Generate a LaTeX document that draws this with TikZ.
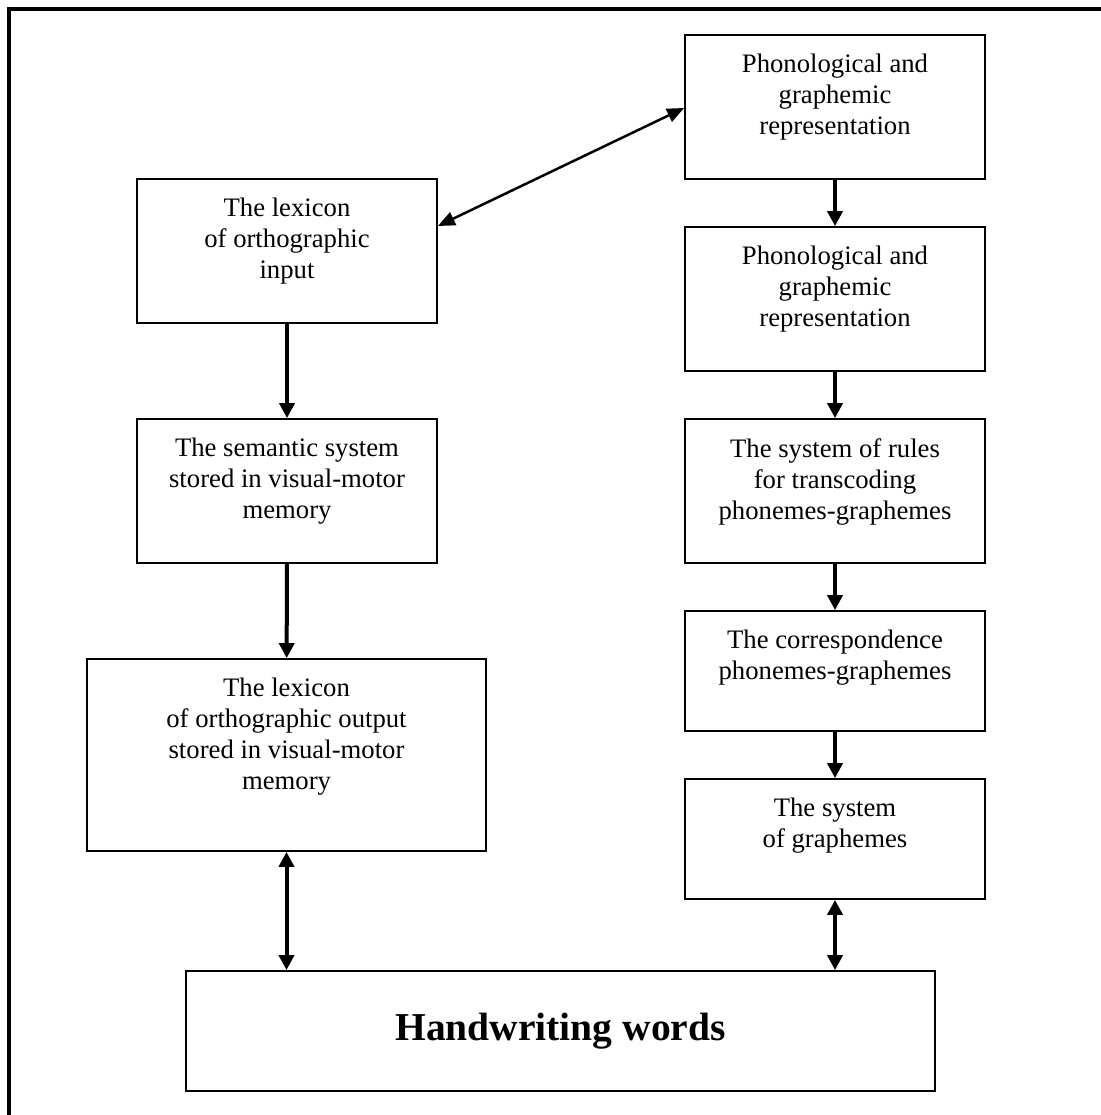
\documentclass[tikz,border=0pt]{standalone}
\usepackage{fontspec}
\setmainfont{Liberation Serif}
\usetikzlibrary{arrows.meta}
\begin{document}
\begin{tikzpicture}[x=1pt,y=-1pt,
  box/.style={draw, line width=1.8pt, inner sep=0pt, rectangle},
  lbl/.style={anchor=north, inner sep=0pt, align=center, font=\fontsize{26.7}{31}\selectfont},
  flow/.style={line width=4pt, -{Triangle[length=15pt,width=15pt]}},
  biflow/.style={line width=4pt, {Triangle[length=15pt,width=15pt]}-{Triangle[length=15pt,width=15pt]}},
  diag/.style={line width=2.5pt, {Triangle[length=17pt,width=14pt]}-{Triangle[length=17pt,width=14pt]}},
  frame/.style={line width=3.5pt}]
\useasboundingbox (0,0) rectangle (1100,1115);
% outer frame (top and left sides visible)
\coordinate (fbl) at (9,1116);
\coordinate (ftl) at (9,9);
\coordinate (ftr) at (1101,9);
\draw[frame] (fbl) -- (ftl) -- (ftr);
% right column
\node[box, minimum width=300pt, minimum height=144pt] (p1) at (835,107) {};
\node[box, minimum width=300pt, minimum height=144pt] (p2) at (835,299) {};
\node[box, minimum width=300pt, minimum height=144pt] (p3) at (835,491) {};
\node[box, minimum width=300pt, minimum height=120pt] (corr) at (835,671) {};
\node[box, minimum width=300pt, minimum height=120pt] (sys) at (835,839) {};
% left column
\node[box, minimum width=300pt, minimum height=144pt] (lexin) at (287,251) {};
\node[box, minimum width=300pt, minimum height=144pt] (sem) at (287,491) {};
\node[box, minimum width=399pt, minimum height=192pt] (lexout) at (286.5,755) {};
% bottom
\node[box, minimum width=749pt, minimum height=120pt, font=\fontsize{39.5}{45}\selectfont\bfseries] (hw) at (560.5,1031) {Handwriting words};
% labels
\node[lbl] (tp1) at ([yshift=-20pt]p1.north) {Phonological and\\graphemic\\representation};
\node[lbl] (tp2) at ([yshift=-20pt]p2.north) {Phonological and\\graphemic\\representation};
\node[lbl] (tp3) at ([yshift=-20pt]p3.north) {The system of rules\\for transcoding\\phonemes-graphemes};
\node[lbl] (tcorr) at ([yshift=-20pt]corr.north) {The correspondence\\phonemes-graphemes};
\node[lbl] (tsys) at ([yshift=-20pt]sys.north) {The system\\of graphemes};
\node[lbl] (tlexin) at ([yshift=-20pt]lexin.north) {The lexicon\\of orthographic\\input};
\node[lbl] (tsem) at ([yshift=-20pt]sem.north) {The semantic system\\stored in visual-motor\\memory};
\node[lbl] (tlexout) at ([yshift=-20pt]lexout.north) {The lexicon\\of orthographic output\\stored in visual-motor\\memory};
% connectors
\draw[flow] (p1) -- (p2);
\draw[flow] (p2) -- (p3);
\draw[flow] (p3) -- (corr);
\draw[flow] (corr) -- (sys);
\draw[flow] (lexin) -- (sem);
\draw[flow] (sem) -- (lexout);
\draw[diag] ([yshift=25pt]lexin.east) -- ([yshift=-1pt]p1.west);
\draw[biflow] (lexout.south) -- (lexout.south |- hw.north);
\draw[biflow] (sys.south) -- (sys.south |- hw.north);
\end{tikzpicture}
\end{document}
